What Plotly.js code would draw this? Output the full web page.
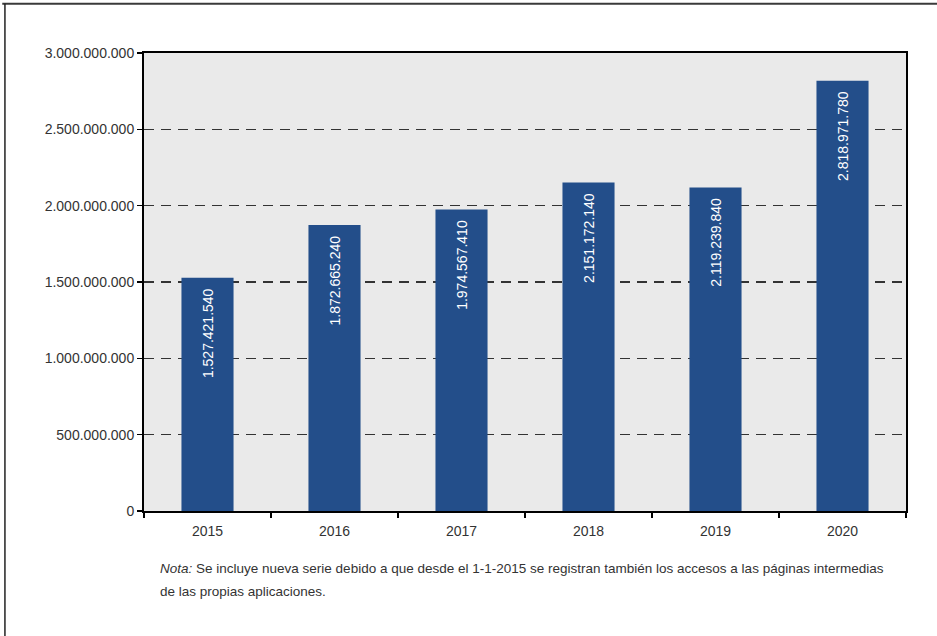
<!DOCTYPE html>
<html>
<head>
<meta charset="utf-8">
<script src="https://cdn.plot.ly/plotly-3.0.1.min.js"></script>
<style>html,body{margin:0;padding:0;background:#fff;}#chart{width:937px;height:636px;}</style>
</head>
<body>
<div id="chart"></div>
<script>
const years = ['2015', '2016', '2017', '2018', '2019', '2020'];
const accesos = [1527421540, 1872665240, 1974567410, 2151172140, 2119239840, 2818971780];
const notaLinea1 = '<i>Nota:</i> Se incluye nueva serie debido a que desde el 1-1-2015 se registran también los accesos a las páginas intermedias';
const notaLinea2 = 'de las propias aplicaciones.';

function fmt(v) {
  return String(v).replace(/\B(?=(\d{3})+(?!\d))/g, '.');
}
const barText = accesos.map(v => fmt(v) + '\u00A0\u00A0');

const FONT = 'Liberation Sans, Arial, sans-serif';

const trace = {
  type: 'bar',
  x: years,
  y: accesos,
  marker: { color: '#234E8A', line: { width: 0 } },
  text: barText,
  textposition: 'inside',
  insidetextanchor: 'end',
  textangle: -90,
  textfont: { family: FONT, size: 14, color: '#ffffff' },
  hoverinfo: 'x+y'
};

const layout = {
  width: 937,
  height: 636,
  margin: { l: 144, r: 31, t: 53, b: 125 },
  paper_bgcolor: '#ffffff',
  plot_bgcolor: '#EAEAEA',
  separators: ',.',
  bargap: 0.59,
  showlegend: false,
  font: { family: FONT, size: 14, color: '#333333' },
  xaxis: {
    type: 'category',
    showline: true,
    linecolor: '#000000',
    linewidth: 2,
    mirror: true,
    ticks: 'outside',
    tickson: 'boundaries',
    ticklen: 5,
    tickwidth: 2,
    tickcolor: '#000000',
    ticklabelstandoff: 6,
    showgrid: false,
    tickfont: { family: FONT, size: 14, color: '#333333' },
    fixedrange: true
  },
  yaxis: {
    range: [0, 3000000000],
    dtick: 500000000,
    tick0: 0,
    tickformat: ',d',
    showline: true,
    linecolor: '#000000',
    linewidth: 2,
    mirror: true,
    ticks: 'outside',
    ticklen: 5,
    tickwidth: 1.5,
    tickcolor: '#000000',
    showgrid: true,
    gridcolor: '#333333',
    gridwidth: 1.4,
    griddash: '10px,7px',
    zeroline: false,
    tickfont: { family: FONT, size: 14, color: '#333333' },
    fixedrange: true
  },
  shapes: [
    { type: 'line', xref: 'paper', yref: 'paper', x0: -0.186, x1: 1.1, y0: 1.1075, y1: 1.1075, line: { color: '#3a3a3a', width: 2 } },
    { type: 'line', xref: 'paper', yref: 'paper', x0: -0.1825, x1: -0.1825, y0: 1.1075, y1: -0.3, line: { color: '#222222', width: 1.5 } }
  ],
  annotations: [
    {
      xref: 'paper', yref: 'paper',
      x: 0.018, y: -0.1245,
      xanchor: 'left', yanchor: 'middle',
      align: 'left',
      showarrow: false,
      text: notaLinea1,
      font: { family: FONT, size: 13.5, color: '#333333' }
    },
    {
      xref: 'paper', yref: 'paper',
      x: 0.018, y: -0.1747,
      xanchor: 'left', yanchor: 'middle',
      align: 'left',
      showarrow: false,
      text: notaLinea2,
      font: { family: FONT, size: 13.5, color: '#333333' }
    }
  ]
};

Plotly.newPlot('chart', [trace], layout, { displayModeBar: false, staticPlot: true });
</script>
</body>
</html>
